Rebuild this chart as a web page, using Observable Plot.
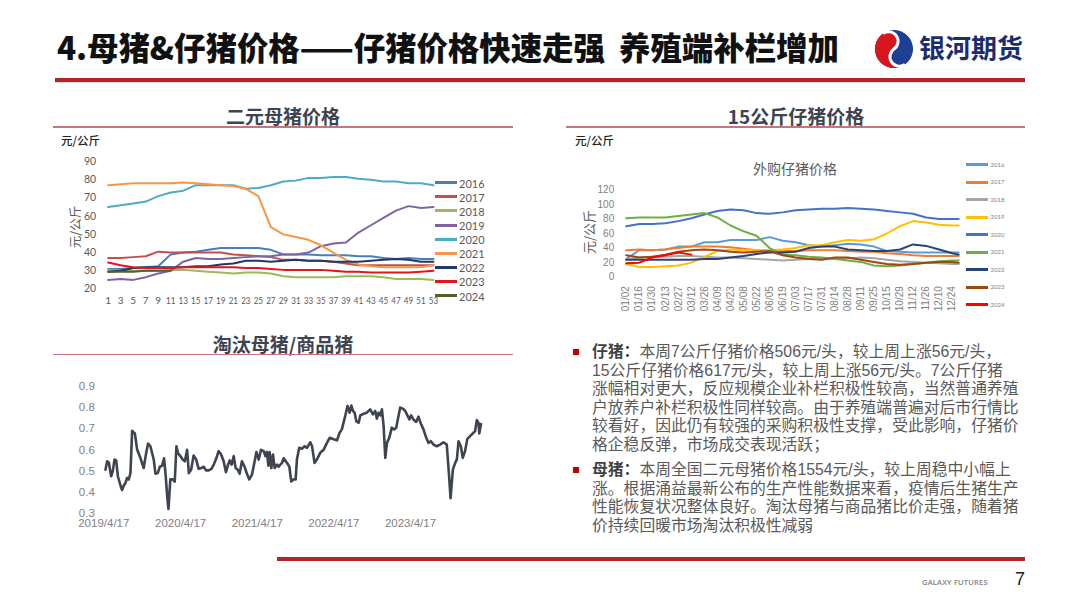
<!DOCTYPE html>
<html><head><meta charset="utf-8">
<script src="https://cdn.jsdelivr.net/npm/d3@7"></script>
<script src="https://cdn.jsdelivr.net/npm/@observablehq/plot@0.6"></script>
<style>
body{margin:0;background:#fff;}
#slide{position:relative;width:1080px;height:608px;overflow:hidden;font-family:"Noto Sans CJK SC","Noto Sans",sans-serif;background:#fff}
.abs{position:absolute}
.sec{position:absolute;font-weight:700;font-size:19px;color:#3d4451;transform:translate(-50%,-50%);white-space:nowrap}
.uline{position:absolute;height:1.5px;background:#c7747c}
.unit{position:absolute;font-size:11.5px;color:#222;font-weight:500;transform:translateY(-50%)}
.ylab{position:absolute;color:#595959;transform:translate(-50%,-50%) rotate(-90deg);white-space:nowrap}
.tl{position:absolute;left:592px;height:18px;font-family:"Liberation Sans","Noto Sans CJK SC",sans-serif;font-size:15.8px;line-height:18px;color:#595959;white-space:nowrap;overflow:visible}
.tl b{color:#3f3f3f}
.bul{position:absolute;width:6px;height:6px;background:#c00000}
</style></head><body><div id="slide">
<div class="abs" style="left:57px;top:26px;font-size:31.5px;line-height:40px;font-weight:900;color:#111;white-space:nowrap;letter-spacing:-0.1px">4.母猪&amp;仔猪价格——仔猪价格快速走强&nbsp;&nbsp;养殖端补栏增加</div>
<svg class="abs" style="left:872px;top:27px" width="44" height="44" viewBox="0 0 44 44">
<g transform="rotate(-35 22 22)">
<circle cx="22" cy="22" r="19" fill="#1f3f95"/>
<path d="M22,3 A19,19 0 0,0 22,41 A9.5,9.5 0 0,1 22,22 A9.5,9.5 0 0,0 22,3 Z" fill="#d7161e"/>
<path d="M22,3 A9.5,9.5 0 0,1 22,22 A9.5,9.5 0 0,0 22,41" fill="none" stroke="#fff" stroke-width="3"/>
</g></svg>
<div class="abs" style="left:919px;top:29px;font-size:26px;line-height:36px;font-weight:700;color:#1c2d6e;white-space:nowrap">银河期货</div>
<div class="abs" style="left:55px;top:78px;width:970px;height:3.5px;background:#b0242b"></div>
<div class="abs" style="left:55px;top:81.5px;width:970px;height:1.5px;background:#d8d8d8"></div>

<div class="sec" style="left:283px;top:115px">二元母猪价格</div>
<div class="uline" style="left:53px;top:126px;width:460px"></div>
<div class="sec" style="left:796px;top:115px">15公斤仔猪价格</div>
<div class="uline" style="left:566px;top:126px;width:459px"></div>
<div class="sec" style="left:283px;top:343px">淘汰母猪/商品猪</div>
<div class="uline" style="left:53px;top:353.5px;width:460px"></div>

<div class="unit" style="left:61px;top:140px">元/公斤</div>
<div class="unit" style="left:575px;top:140px">元/公斤</div>
<div class="ylab" style="left:74px;top:227px;font-size:12.5px">元/公斤</div>
<div class="ylab" style="left:588px;top:232px;font-size:13px">元/公斤</div>
<div class="abs" style="left:795px;top:168px;transform:translate(-50%,-50%);font-size:14px;color:#595959;white-space:nowrap">外购仔猪价格</div>

<div id="c1" class="abs" style="left:50px;top:130px"></div>
<div id="c2" class="abs" style="left:560px;top:150px"></div>
<div id="c3" class="abs" style="left:50px;top:370px"></div>
<div id="leg1"></div><div id="leg2"></div>

<div class="bul" style="left:573px;top:349px"></div>
<div class="bul" style="left:573px;top:467px"></div>
<div class="tl" style="top:343px"><b>仔猪：</b>本周7公斤仔猪价格506元/头，较上周上涨56元/头，</div>
<div class="tl" style="top:361.6px">15公斤仔猪价格617元/头，较上周上涨56元/头。7公斤仔猪</div>
<div class="tl" style="top:380.2px">涨幅相对更大，反应规模企业补栏积极性较高，当然普通养殖</div>
<div class="tl" style="top:398.8px">户放养户补栏积极性同样较高。由于养殖端普遍对后市行情比</div>
<div class="tl" style="top:417.4px">较看好，因此仍有较强的采购积极性支撑，受此影响，仔猪价</div>
<div class="tl" style="top:436px">格企稳反弹，市场成交表现活跃；</div>
<div class="tl" style="top:461px"><b>母猪：</b>本周全国二元母猪价格1554元/头，较上周稳中小幅上</div>
<div class="tl" style="top:479.6px">涨。根据涌益最新公布的生产性能数据来看，疫情后生猪生产</div>
<div class="tl" style="top:498.2px">性能恢复状况整体良好。淘汰母猪与商品猪比价走强，随着猪</div>
<div class="tl" style="top:516.8px">价持续回暖市场淘汰积极性减弱</div>

<div class="abs" style="left:277px;top:557px;width:748px;height:3.5px;background:#b0242b"></div>
<div class="abs" style="left:922px;top:577px;font-size:7.5px;color:#808080;font-family:'Open Sans',sans-serif;font-weight:600;letter-spacing:0.2px">GALAXY FUTURES</div>
<div class="abs" style="left:1015px;top:569px;font-size:18px;color:#222;font-family:'Liberation Sans',sans-serif">7</div>
</div>
<script>
// ---------- Chart 1: 二元母猪价格 (元/公斤, by week) ----------
const weeks = [1,3,5,7,9,11,13,15,17,19,21,23,25,27,29,31,33,35,37,39,41,43,45,47,49,51,53];
const sowYears = ["2016","2017","2018","2019","2020","2021","2022","2023","2024"];
const sow2016 = [31,31,31.5,32,32.5,39,40,40.5,41.5,42.5,42.5,42.5,42.5,41.5,39,39,39,38.5,38.5,38.5,38,38,37,36.5,37,36.5,36.5];
const sow2017 = [37,37,37.5,38,40.5,40,40,40,40,40,39,38.5,38,37.5,36,36,35.5,35.5,35,34,33,33,33,33,33,33,33];
const sow2018 = [30.5,30,30,30,30,30.5,30.5,30,29.5,29,28.5,29,29,28.5,27,26.5,26.5,26.5,26.5,27,27,27,26.5,25.5,25.5,25.5,25];
const sow2019 = [25,25.5,25,26.5,28.5,30,35,37,36.5,36.5,37,37.5,38,38,39,39,40,43.5,45,45.5,51,55,59,63,65.5,64.5,65];
const sow2020 = [65,66,67,68,71,73,74,77,77,77,77,75,75.5,77,79,79.5,81,81,81.5,81.5,80.5,80,79,79,78,78,77];
const sow2021 = [77,77.5,78,78,78,78,78.5,78,77.5,77,76.5,75,71,54,50,48.5,47,44,40,36,33.5,32.5,32,32,32,32,33];
const sow2022 = [29.5,30,31.5,32,32,32,32,32.5,32.5,33.5,34,35.5,35.5,35,35.5,36,35.5,35.5,35,35,35,35.5,36,36.5,36,35,35];
const sow2023 = [34.5,33,32,31.5,31.5,31.5,32,32,32,32,32,31.5,31.5,31,30.5,30.5,30.5,30.5,30,29.5,29.5,29,29,29,29,29.5,30];
const sow2024 = [29.5,29.5,29.5,30,30,30];
const sowSeries = [sow2016,sow2017,sow2018,sow2019,sow2020,sow2021,sow2022,sow2023,sow2024];
const sowColors = ["#4a7ebb","#c0504d","#9bbb59","#8064a2","#4bacc6","#f79646","#1f3864","#e3141c","#4f6228"];
const sowTicksY = [20,30,40,50,60,70,80,90];

// ---------- Chart 2: 外购仔猪价格 (元/公斤) ----------
const pigletIdx = [0,1,2,3,4,5,6,7,8,9,10,11,12,13,14,15,16,17,18,19,20,21,22,23,24,25,25.5];
const pigletLabels = ["01/02","01/16","01/30","02/13","02/27","03/12","03/26","04/09","04/23","05/08","05/22","06/05","06/19","07/03","07/17","07/31","08/14","08/28","09/11","09/25","10/15","10/29","11/12","11/26","12/10","12/24"];
const pigYears = ["2016","2017","2018","2019","2020","2021","2022","2023","2024"];
const pig2016 = [25,37,37,38,42,42,48,48,51,51,51,55,50,48,44,42,44,46,45,42,36,35,34,34,34,34,34];
const pig2017 = [37,38,37,38,40,42,42,42,41,39,37,36,36,36,37,37,37,36,35,35,33,32,30,29,29,29,29];
const pig2018 = [24,27,28,28,29,29,28,27,27,26,25,24,23,24,25,25,26,26,27,26,24,22,21,20,19,18,18];
const pig2019 = [18,14,14,15,16,20,28,36,38,37,37,37,38,40,44,44,48,51,50,52,60,70,77,75,72,71,71];
const pig2020 = [70,73,73,74,77,81,86,91,93,92,88,87,89,92,93,94,94,95,94,93,91,89,87,82,80,80,80];
const pig2021 = [81,82,82,82,84,86,88,82,71,63,57,40,31,30,28,27,25,23,21,16,15,16,18,20,22,23,23];
const pig2022 = [24,24,24,24,24,24,25,25,27,29,32,34,34,35,40,42,42,38,37,36,36,38,45,43,38,33,31];
const pig2023 = [30,27,28,31,35,37,38,37,35,34,35,36,30,27,25,24,27,27,24,21,18,17,18,20,21,21,20];
const pig2024 = [19,20,27,30,34,31];
const pigSeries = [pig2016,pig2017,pig2018,pig2019,pig2020,pig2021,pig2022,pig2023,pig2024];
const pigColors = ["#5b9bd5","#ed7d31","#a5a5a5","#ffc000","#4472c4","#70ad47","#264478","#9e480e","#ff0000"];
const pigTicksY = [0,20,40,60,80,100,120];

// ---------- Chart 3: 淘汰母猪/商品猪 ----------
const ratioDates = ["2019-04-25","2019-05-03","2019-05-11","2019-05-22","2019-05-30","2019-06-07","2019-06-15","2019-06-23","2019-07-06","2019-07-13","2019-07-21","2019-07-29","2019-08-06","2019-08-14","2019-08-22","2019-08-30","2019-09-12","2019-09-23","2019-10-09","2019-10-24","2019-11-05","2019-11-14","2019-11-25","2019-12-11","2019-12-19","2019-12-30","2020-01-09","2020-01-20","2020-01-29","2020-02-06","2020-02-13","2020-02-19","2020-02-28","2020-03-11","2020-03-20","2020-03-28","2020-04-05","2020-04-16","2020-04-27","2020-05-07","2020-05-18","2020-05-26","2020-06-06","2020-06-18","2020-06-30","2020-07-12","2020-07-25","2020-08-05","2020-08-16","2020-08-29","2020-09-11","2020-09-22","2020-10-04","2020-10-15","2020-10-27","2020-11-08","2020-11-19","2020-11-29","2020-12-07","2020-12-16","2020-12-26","2021-01-04","2021-01-14","2021-01-23","2021-02-03","2021-02-15","2021-02-27","2021-03-10","2021-03-23","2021-04-03","2021-04-13","2021-04-24","2021-05-05","2021-05-18","2021-05-26","2021-06-02","2021-06-09","2021-06-15","2021-06-23","2021-07-01","2021-07-09","2021-07-20","2021-07-28","2021-08-05","2021-08-13","2021-08-21","2021-09-06","2021-09-17","2021-09-26","2021-10-07","2021-10-17","2021-10-23","2021-11-03","2021-11-16","2021-11-27","2021-12-10","2021-12-26","2022-01-03","2022-01-15","2022-01-26","2022-02-11","2022-02-27","2022-03-15","2022-03-28","2022-04-16","2022-05-02","2022-05-14","2022-05-25","2022-06-10","2022-06-21","2022-07-01","2022-07-09","2022-07-17","2022-07-25","2022-08-02","2022-08-13","2022-08-21","2022-09-06","2022-09-21","2022-10-07","2022-10-20","2022-10-31","2022-11-08","2022-11-16","2022-11-24","2022-12-02","2022-12-10","2022-12-18","2022-12-26","2023-01-06","2023-01-18","2023-01-29","2023-02-08","2023-02-19","2023-02-27","2023-03-12","2023-03-23","2023-03-31","2023-04-12","2023-04-20","2023-05-01","2023-05-14","2023-05-25","2023-06-05","2023-06-18","2023-07-01","2023-07-12","2023-07-23","2023-08-05","2023-08-20","2023-09-05","2023-09-21","2023-10-07","2023-10-17","2023-10-25","2023-11-05","2023-11-16","2023-11-24","2023-12-02","2023-12-13","2023-12-22","2024-01-02","2024-01-13","2024-01-26","2024-02-08","2024-02-19","2024-02-27","2024-03-06","2024-03-10","2024-03-18"];
const ratioValues = [0.506,0.546,0.54,0.475,0.50,0.554,0.55,0.475,0.43,0.41,0.43,0.443,0.467,0.46,0.49,0.69,0.678,0.60,0.56,0.514,0.586,0.63,0.617,0.554,0.487,0.49,0.52,0.525,0.56,0.475,0.38,0.32,0.46,0.46,0.45,0.617,0.583,0.57,0.554,0.546,0.60,0.49,0.506,0.573,0.554,0.51,0.514,0.52,0.503,0.503,0.51,0.53,0.56,0.594,0.578,0.546,0.494,0.53,0.55,0.53,0.57,0.514,0.506,0.487,0.546,0.522,0.487,0.46,0.483,0.538,0.59,0.554,0.60,0.594,0.57,0.59,0.525,0.59,0.514,0.578,0.514,0.53,0.52,0.53,0.538,0.56,0.538,0.52,0.45,0.46,0.46,0.554,0.61,
0.605,0.617,0.61,0.636,0.617,0.538,0.554,0.586,0.60,0.633,0.657,0.65,0.645,0.68,0.697,0.76,0.808,0.776,0.81,0.784,0.776,0.736,0.728,0.763,0.771,0.776,0.792,0.768,0.784,0.748,0.776,0.763,0.792,0.713,0.562,0.633,0.657,0.705,0.697,0.705,0.76,0.80,0.795,0.784,0.768,0.744,0.763,0.744,0.732,0.757,0.725,0.697,0.657,0.633,0.641,0.625,0.617,0.625,0.636,0.625,0.49,0.371,0.506,0.538,0.554,0.641,0.617,0.562,0.594,0.652,0.665,0.678,0.689,0.741,0.728,0.678,0.722];
const ratioTickDates = ["2019-04-17","2020-04-17","2021-04-17","2022-04-17","2023-04-17"];
const ratioTickLabels = ["2019/4/17","2020/4/17","2021/4/17","2022/4/17","2023/4/17"];
const ratioTicksY = [0.3,0.4,0.5,0.6,0.7,0.8,0.9];

// ---------- build ----------
const sowData = sowYears.flatMap((yr,k)=>sowSeries[k].map((v,i)=>({year:yr,week:weeks[i],value:v})).filter(d=>d.value!=null));
const c1 = Plot.plot({
  width:470,height:185,marginLeft:57.7,marginRight:87,marginTop:31,marginBottom:26.5,
  style:{fontFamily:"Lato, 'Liberation Sans', sans-serif",fontSize:"10.5px",color:"#595959",background:"transparent"},
  x:{domain:[1,53],ticks:weeks,tickFormat:d=>String(d),tickSize:0,tickPadding:8,label:null},
  y:{domain:[20,90],ticks:sowTicksY,tickSize:0,tickPadding:12,label:null},
  color:{domain:sowYears,range:sowColors},
  marks:[Plot.lineY(sowData,{x:"week",y:"value",stroke:"year",z:"year",strokeWidth:2})]
});
document.getElementById("c1").appendChild(c1);
// condense two-digit week labels like the narrow font of the original
c1.querySelectorAll("[aria-label='x-axis tick label'] text").forEach(t=>{
  t.style.fontSize="10px";
  if(t.textContent.length>1){t.setAttribute("textLength","9.4");t.setAttribute("lengthAdjust","spacingAndGlyphs");}
});

const pigData = pigYears.flatMap((yr,k)=>pigSeries[k].map((v,i)=>({year:yr,idx:pigletIdx[i],value:v})).filter(d=>d.value!=null));
const c2 = Plot.plot({
  width:480,height:165,marginLeft:65.7,marginRight:81.8,marginTop:39.3,marginBottom:38.3,
  style:{fontFamily:"'Liberation Sans', sans-serif",fontSize:"10px",color:"#7f7f7f",background:"transparent"},
  x:{domain:[0,25.5],ticks:d3.range(pigletLabels.length),tickFormat:i=>pigletLabels[i],tickRotate:-90,tickSize:0,tickPadding:9,label:null},
  y:{domain:[0,120],ticks:pigTicksY,tickSize:0,tickPadding:12,label:null},
  color:{domain:pigYears,range:pigColors},
  marks:[Plot.lineY(pigData,{x:"idx",y:"value",stroke:"year",z:"year",strokeWidth:2})]
});
document.getElementById("c2").appendChild(c2);

const parse = d3.utcParse("%Y-%m-%d");
const ratioData = ratioDates.map((d,i)=>({date:parse(d),value:ratioValues[i]}));
const c3 = Plot.plot({
  width:470,height:165,marginLeft:53.3,marginRight:33.2,marginTop:16,marginBottom:22.3,
  style:{fontFamily:"'Liberation Sans', sans-serif",fontSize:"11.5px",color:"#7f7f7f",background:"transparent"},
  x:{type:"utc",domain:[parse("2019-04-17"),parse("2024-04-17")],ticks:ratioTickDates.map(parse),tickFormat:d=>ratioTickLabels[ratioTickDates.indexOf(d3.utcFormat("%Y-%m-%d")(d))],tickSize:0,tickPadding:6,label:null},
  y:{domain:[0.3,0.9],ticks:ratioTicksY,tickFormat:d3.format(".1f"),tickSize:0,tickPadding:9,label:null},
  marks:[Plot.lineY(ratioData,{x:"date",y:"value",stroke:"#3f4451",strokeWidth:2.6})]
});
document.getElementById("c3").appendChild(c3);

// legends
function legend(id, names, colors, x0, y0, dy, swW, txtX, fs, col){
  const el=document.getElementById(id);
  names.forEach((n,i)=>{
    const y=y0+dy*i;
    const sw=document.createElement("span");
    sw.className="abs";sw.style.cssText=`left:${x0}px;top:${y-1.5}px;width:${swW}px;height:3px;background:${colors[i]}`;
    const tx=document.createElement("span");
    tx.className="abs";tx.textContent=n;
    tx.style.cssText=`left:${txtX}px;top:${y}px;transform:translateY(-50%);font-size:${fs}px;color:${col};font-family:Lato,'Liberation Sans',sans-serif;line-height:1`;
    el.appendChild(sw);el.appendChild(tx);
  });
}
legend("leg1",sowYears,sowColors,435,182.7,14.1,22,459,11,"#595959");
legend("leg2",pigYears,pigColors,966,164.7,17.53,22,990.5,6,"#7f7f7f");
</script>
</body></html>
